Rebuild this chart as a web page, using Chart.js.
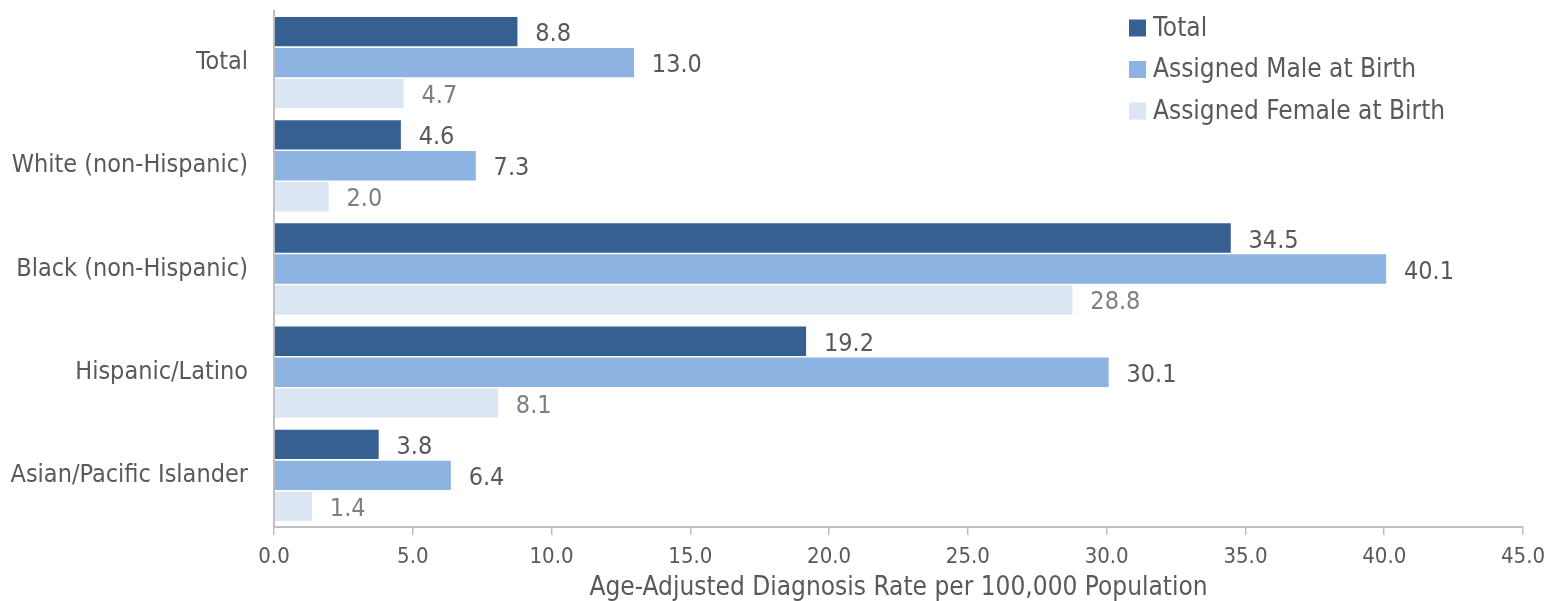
<!DOCTYPE html>
<html>
<head>
<meta charset="utf-8">
<script src="https://cdn.jsdelivr.net/npm/chart.js@4.4.0/dist/chart.umd.min.js"></script>
<style>
  html, body { margin: 0; padding: 0; background: #fff; }
  #wrap { width: 1548px; height: 601px; }
</style>
</head>
<body>
<div id="wrap"><canvas id="rates" width="1548" height="601"></canvas></div>
<script>
// Age-adjusted diagnosis rate per 100,000, by race/ethnicity
const categories = ['Total', 'White (non-Hispanic)', 'Black (non-Hispanic)', 'Hispanic/Latino', 'Asian/Pacific Islander'];
const seriesNames = ['Total', 'Assigned Male at Birth', 'Assigned Female at Birth'];
const totalRates = [8.8, 4.6, 34.5, 19.2, 3.8];
const maleRates = [13.0, 7.3, 40.1, 30.1, 6.4];
const femaleRates = [4.7, 2.0, 28.8, 8.1, 1.4];
const xTicks = [0, 5, 10, 15, 20, 25, 30, 35, 40, 45];

const FONT = "'Liberation Sans Narrow', 'Arial Narrow', 'DejaVu Sans Condensed', sans-serif";
const barColors = ['#366092', '#8DB3E2', '#DCE6F2'];
const labelColors = ['#595959', '#595959', '#7F7F7F'];
const textColor = '#595959';
const axisColor = '#BFBFBF';

// value labels at the end of each bar
const valueLabels = {
    id: 'valueLabels',
    afterDatasetsDraw(chart) {
        const ctx = chart.ctx;
        ctx.save();
        ctx.font = '25px ' + FONT;
        ctx.textAlign = 'left';
        ctx.textBaseline = 'middle';
        chart.data.datasets.forEach((ds, i) => {
            const meta = chart.getDatasetMeta(i);
            ctx.fillStyle = labelColors[i];
            meta.data.forEach((bar, j) => {
                ctx.fillText(ds.data[j].toFixed(1), bar.x + 17, bar.y + 3);
            });
        });
        ctx.restore();
    }
};

// legend drawn inside the top right of the plot
const cornerLegend = {
    id: 'cornerLegend',
    afterDraw(chart) {
        const ctx = chart.ctx;
        const left = chart.width - 419;
        const top = 28;
        const rowGap = 41.5;
        ctx.save();
        ctx.font = '26px ' + FONT;
        ctx.textAlign = 'left';
        ctx.textBaseline = 'middle';
        chart.data.datasets.forEach((ds, i) => {
            const y = top + i * rowGap;
            ctx.fillStyle = ds.backgroundColor;
            ctx.fillRect(left, y - 8.5, 17, 17);
            ctx.fillStyle = textColor;
            ctx.fillText(ds.label, left + 24, y + 1);
        });
        ctx.restore();
    }
};

const datasets = [totalRates, maleRates, femaleRates].map((values, i) => ({
    label: seriesNames[i],
    data: values,
    backgroundColor: barColors[i],
    borderColor: '#ffffff',
    borderWidth: 0.8,
    barPercentage: 1.0,
    categoryPercentage: 0.9
}));

new Chart(document.getElementById('rates'), {
    type: 'bar',
    data: {
        labels: categories,
        datasets: datasets
    },
    options: {
        indexAxis: 'y',
        responsive: false,
        animation: false,
        devicePixelRatio: 1,
        layout: {
            padding: { top: 11, right: 25, left: 0, bottom: 0 }
        },
        scales: {
            x: {
                min: 0,
                max: 45,
                afterBuildTicks: (scale) => {
                    scale.ticks = xTicks.map(v => ({ value: v }));
                },
                afterFit: (scale) => {
                    scale.height = 74;
                    scale.paddingLeft = 0;
                    scale.paddingRight = 0;
                },
                ticks: {
                    callback: (v) => Number(v).toFixed(1),
                    color: textColor,
                    font: { family: FONT, size: 22 },
                    padding: 9,
                    maxRotation: 0
                },
                grid: {
                    drawOnChartArea: false,
                    drawTicks: true,
                    tickLength: 8,
                    color: axisColor,
                    lineWidth: 1.5
                },
                border: { display: true, color: axisColor, width: 2 },
                title: {
                    display: true,
                    text: 'Age-Adjusted Diagnosis Rate per 100,000 Population',
                    color: textColor,
                    font: { family: FONT, size: 26, lineHeight: 1.0 },
                    padding: { top: 0, bottom: 0 }
                }
            },
            y: {
                afterFit: (scale) => {
                    scale.width = 274;
                    scale.paddingTop = 0;
                    scale.paddingBottom = 0;
                },
                ticks: {
                    color: textColor,
                    font: { family: FONT, size: 25 },
                    padding: 26
                },
                grid: { display: false, drawTicks: false },
                border: { display: true, color: axisColor, width: 2 }
            }
        },
        plugins: {
            legend: { display: false },
            tooltip: { enabled: false }
        }
    },
    plugins: [valueLabels, cornerLegend]
});
</script>
</body>
</html>
